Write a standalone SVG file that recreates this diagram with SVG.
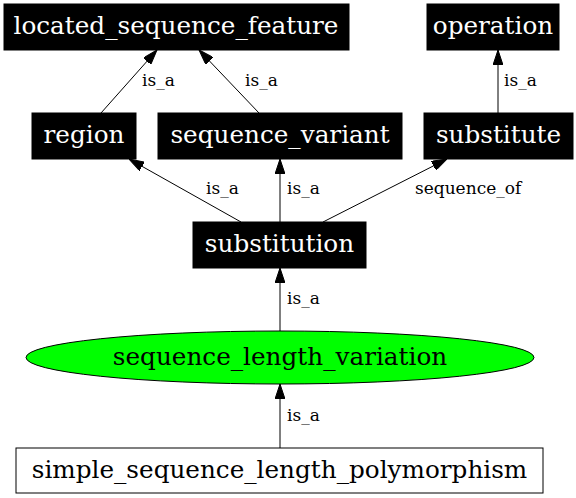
<svg xmlns="http://www.w3.org/2000/svg" width="576" height="498" viewBox="0 0 576 498">
<style>
.box{fill:#000;stroke:#000;stroke-width:1}
.wbox{fill:#fff;stroke:#000;stroke-width:1}
.ell{fill:#00ff00;stroke:#000;stroke-width:1}
.nt{font-family:"DejaVu Serif","Liberation Serif",serif;font-size:24.7px;text-anchor:middle}
.w{fill:#fff}
.k{fill:#000}
.el{font-family:"DejaVu Serif","Liberation Serif",serif;font-size:17px;fill:#000}
.edge{stroke:#000;stroke-width:1;fill:none;marker-end:url(#arr)}
</style>
<defs>
<marker id="arr" markerUnits="userSpaceOnUse" viewBox="0 -5 15 10" refX="15" refY="0" markerWidth="15" markerHeight="10" orient="auto">
<path d="M0,-5 L15,0 L0,5 z" fill="#000" stroke="#000" stroke-width="1"/>
</marker>
</defs>
<g id="edges">
<path class="edge" d="M101,113 L157,50"/>
<text class="el" x="142" y="86">is_a</text>
<path class="edge" d="M259,113 L199,50"/>
<text class="el" x="245" y="86">is_a</text>
<path class="edge" d="M498,113 L498,50"/>
<text class="el" x="504" y="86">is_a</text>
<path class="edge" d="M241,222 L129,159"/>
<text class="el" x="206" y="194">is_a</text>
<path class="edge" d="M280,222 L280,159"/>
<text class="el" x="287" y="194">is_a</text>
<path class="edge" d="M323,222 L447,159"/>
<text class="el" x="415" y="194">sequence_of</text>
<path class="edge" d="M280,331 L280,268"/>
<text class="el" x="287" y="304">is_a</text>
<path class="edge" d="M280,448 L280,384"/>
<text class="el" x="287" y="421">is_a</text>
</g>
<g id="located_sequence_feature">
<rect class="box" x="4" y="4" width="345" height="46"/>
<text class="nt w" x="176" y="33.5">located_sequence_feature</text>
</g>
<g id="operation">
<rect class="box" x="427" y="4" width="132" height="46"/>
<text class="nt w" x="493" y="33.5">operation</text>
</g>
<g id="region">
<rect class="box" x="32" y="113" width="104" height="46"/>
<text class="nt w" x="84" y="142.5">region</text>
</g>
<g id="sequence_variant">
<rect class="box" x="158" y="113" width="244" height="46"/>
<text class="nt w" x="280" y="142.5">sequence_variant</text>
</g>
<g id="substitute">
<rect class="box" x="424" y="113" width="149" height="46"/>
<text class="nt w" x="498.5" y="142.5">substitute</text>
</g>
<g id="substitution">
<rect class="box" x="193" y="222" width="173" height="46"/>
<text class="nt w" x="279.5" y="251.5">substitution</text>
</g>
<g id="sequence_length_variation">
<ellipse class="ell" cx="280" cy="357.5" rx="254" ry="26.5"/>
<text class="nt k" x="280" y="365">sequence_length_variation</text>
</g>
<g id="simple_sequence_length_polymorphism">
<rect class="wbox" x="16" y="448" width="527" height="45"/>
<text class="nt k" x="279.5" y="477.5">simple_sequence_length_polymorphism</text>
</g>
</svg>
